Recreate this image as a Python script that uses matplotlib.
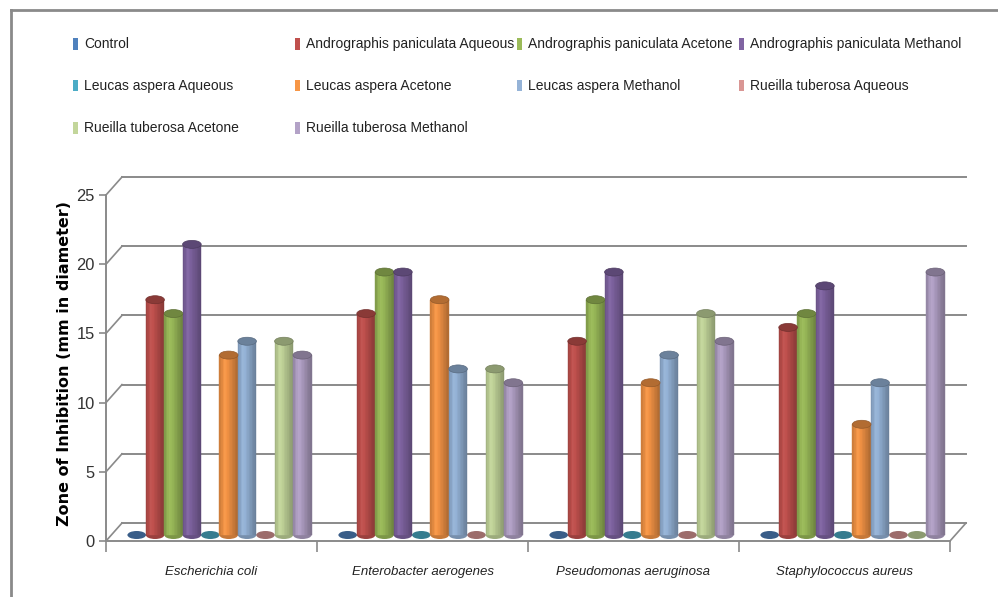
import numpy as np
import matplotlib
matplotlib.use('Agg')
import matplotlib.pyplot as plt
from matplotlib.patches import Ellipse, Rectangle
from matplotlib import font_manager

# Datos: zona de inhibicion (mm) por organismo y extracto
organisms = ['Escherichia coli', 'Enterobacter aerogenes',
             'Pseudomonas aeruginosa', 'Staphylococcus aureus']
series_names = ['Control',
                'Andrographis paniculata Aqueous', 'Andrographis paniculata Acetone',
                'Andrographis paniculata Methanol',
                'Leucas aspera Aqueous', 'Leucas aspera Acetone', 'Leucas aspera Methanol',
                'Rueilla tuberosa Aqueous', 'Rueilla tuberosa Acetone', 'Rueilla tuberosa Methanol']
control = [0, 0, 0, 0]
ap_aqueous = [17, 16, 14, 15]
ap_acetone = [16, 19, 17, 16]
ap_methanol = [21, 19, 19, 18]
la_aqueous = [0, 0, 0, 0]
la_acetone = [13, 17, 11, 8]
la_methanol = [14, 12, 13, 11]
rt_aqueous = [0, 0, 0, 0]
rt_acetone = [14, 12, 16, 0]
rt_methanol = [13, 11, 14, 19]
series = [control, ap_aqueous, ap_acetone, ap_methanol, la_aqueous, la_acetone,
          la_methanol, rt_aqueous, rt_acetone, rt_methanol]
colors = ['#4F81BD', '#C0504D', '#9BBB59', '#8064A2', '#4BACC6',
          '#F79646', '#95B3D7', '#D99694', '#C3D69B', '#B3A2C7']
yticks = [0, 5, 10, 15, 20, 25]

names = {f.name for f in font_manager.fontManager.ttflist}
NARROW = 'Liberation Sans Narrow' if 'Liberation Sans Narrow' in names else 'Liberation Sans'
# sin fuente estrecha se reduce el tamaño para conservar los anchos
SHRINK = 1.0 if NARROW == 'Liberation Sans Narrow' else 0.82

W, H = 998, 597
GREY = '#8a8a8a'


def shade(c, f):
    c = np.array(matplotlib.colors.to_rgb(c))
    if f >= 1:
        return tuple(c + (1 - c) * (f - 1))
    return tuple(c * f)


fig = plt.figure(figsize=(W / 100, H / 100), dpi=100)

# marco exterior (solo arriba e izquierda visibles)
fig.add_artist(plt.Line2D([11 / W, 1], [1 - 10 / H, 1 - 10 / H], color=GREY, lw=2))
fig.add_artist(plt.Line2D([11 / W, 11 / W], [0, 1 - 10 / H], color=GREY, lw=2))

ax = fig.add_axes([106 / W, 1 - 541 / H, 844 / W, 346 / H])
ax.set_xlim(-0.5, 3.5)
ax.set_ylim(0, 25)
px_x = 844 / 4.0
px_y = 346 / 25.0

# desplazamientos de profundidad (pared trasera y plano de barras)
back_dx, back_dy = 16 / px_x, 18 / px_y
bar_dx, bar_dy = 8 / px_x, 6 / px_y

for v in yticks:
    ax.plot([-0.5 + back_dx, 3.5 + back_dx], [v + back_dy, v + back_dy],
            color=GREY, lw=1.4, clip_on=False, zorder=1)
    ax.plot([-0.5, -0.5 + back_dx], [v, v + back_dy], color=GREY, lw=1.2,
            clip_on=False, zorder=1)
ax.plot([3.5, 3.5 + back_dx], [0, back_dy], color=GREY, lw=1.2, clip_on=False, zorder=1)

n = len(series)
step = 0.0872
bw = 0.088
eh = 8 / px_y
x = np.arange(len(organisms))
nsl = 12
tp = [0, 0.3, 1]
fp = [0.8, 1.04, 0.7]
for i, (vals, col) in enumerate(zip(series, colors)):
    xc = x + (i - (n - 1) / 2) * step + bar_dx
    for xi, v in zip(xc, vals):
        if v == 0:
            ax.add_patch(Ellipse((xi, bar_dy), bw, eh, facecolor=shade(col, 0.72),
                                 edgecolor='none', zorder=2))
            continue
        ax.add_patch(Ellipse((xi, bar_dy), bw, eh, facecolor=shade(col, 0.8),
                             edgecolor='none', zorder=2))
        edges = np.linspace(xi - bw / 2, xi + bw / 2, nsl + 1)
        for k in range(nsl):
            t = (k + 0.5) / nsl
            c = shade(col, np.interp(t, tp, fp))
            ax.bar(edges[k], v, width=edges[k + 1] - edges[k], bottom=bar_dy, align='edge',
                   color=c, edgecolor=c, linewidth=0.3, zorder=3)
        ax.add_patch(Ellipse((xi, v + bar_dy), bw, eh, facecolor=shade(col, 0.72),
                             edgecolor=shade(col, 0.6), linewidth=0.5, zorder=4))

for s in ['top', 'right']:
    ax.spines[s].set_visible(False)
for s in ['left', 'bottom']:
    ax.spines[s].set_color(GREY)
    ax.spines[s].set_linewidth(1.4)
ax.set_facecolor('none')

ax.set_yticks(yticks)
ax.set_yticklabels([str(v) for v in yticks], fontsize=14.5 * SHRINK, family=NARROW,
                   color='#333333')
ax.tick_params(axis='y', length=5, color=GREY, width=1.2, pad=3)
ax.set_xticks([-0.5, 0.5, 1.5, 2.5, 3.5])
ax.set_xticklabels([])
ax.tick_params(axis='x', which='major', length=8, color=GREY, width=1.2)
ax.set_xticks(x, minor=True)
ax.set_xticklabels(organisms, minor=True, fontsize=11.6 * SHRINK, family=NARROW,
                   style='italic', color='#222222')
ax.tick_params(axis='x', which='minor', length=0, pad=18)

fig.text(65 / W, 1 - 363 / H, 'Zone of Inhibition (mm in diameter)', rotation=90,
         fontsize=11.5, fontweight='bold', ha='center', va='center', color='black')

# leyenda manual en rejilla de 4 columnas
col_x = [73, 295, 517, 739]
row_y = [44, 86, 128]
for i, (name, col) in enumerate(zip(series_names, colors)):
    r, c = divmod(i, 4)
    mx, my = col_x[c], row_y[r]
    fig.add_artist(Rectangle((mx / W, 1 - (my + 5.5) / H), 5 / W, 11 / H,
                             transform=fig.transFigure, facecolor=col, edgecolor='none'))
    fig.text((mx + 11) / W, 1 - my / H, name, fontsize=12.2 * SHRINK, family=NARROW,
             ha='left', va='center', color='#222222')

fig.savefig('out.png', dpi=100)
